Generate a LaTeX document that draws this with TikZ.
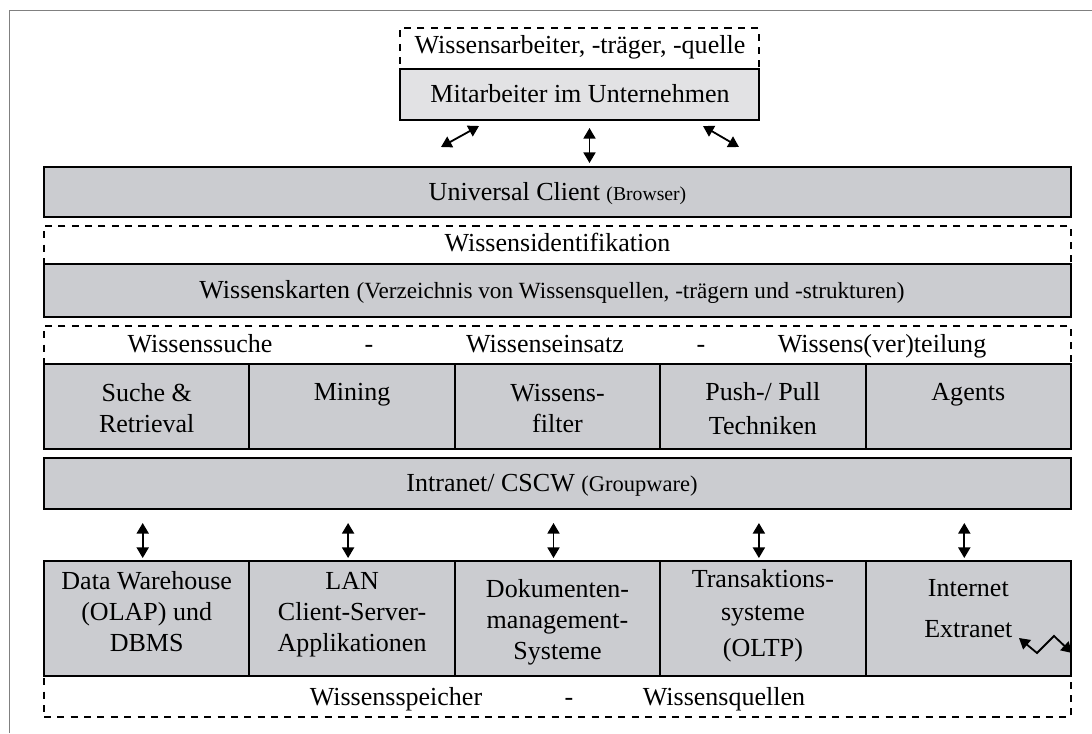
\documentclass[tikz,border=0pt]{standalone}
\usepackage{fontspec}
\setmainfont{Liberation Serif}
\usetikzlibrary{arrows.meta,fit}
\definecolor{grau}{RGB}{203,204,208}
\definecolor{hgrau}{RGB}{226,226,228}
\definecolor{rand}{RGB}{128,128,128}
\newcommand\klein{\fontsize{14}{17}\selectfont}
\newcommand\mittel{\fontsize{16.5}{20}\selectfont}
\tikzset{
  kasten/.style={draw=black,fill=grau,line width=1.4pt,inner sep=0pt},
  hkasten/.style={kasten,fill=hgrau},
  strich/.style={draw=black,line width=1.9pt,dash pattern=on 5pt off 4.5pt,inner sep=0pt},
  pfeil/.style={{Triangle[length=7.5pt,width=8.5pt]}-{Triangle[length=7.5pt,width=8.5pt]},line width=1.3pt},
  txt/.style={font=\fontsize{18.5}{22}\selectfont,align=center,inner sep=0pt,anchor=base},
}
\begin{document}
\begin{tikzpicture}[x=0.025cm,y=-0.025cm]
  \useasboundingbox (0,0) rectangle (1092,733);
  \draw[rand,line width=0.7pt] (9,733) -- (9,10) -- (1092,10);
  % Mitarbeiter oben
  \node[strich,fit={(400,28) (759,69)}] (rolle) {};
  \node[hkasten,fit={(400,69) (759,120)}] (mitarb) {};
  \node[txt] (rolletxt) at (580,53) {Wissensarbeiter, -träger, -quelle};
  \node[txt] (mitarbtxt) at (580,102.5) {Mitarbeiter im Unternehmen};
  \node[kasten,fit={(44,167) (1071,217)}] (client) {};
  \node[txt] (clienttxt) at (557.5,200) {Universal Client {\klein(Browser)}};
  \coordinate (ml1) at (441,147); \coordinate (ml2) at (479,126);
  \coordinate (mr1) at (703,126); \coordinate (mr2) at (739,147);
  \draw[pfeil] (ml1) -- (ml2);
  \draw[pfeil] (mr1) -- (mr2);
  \draw[pfeil,shorten <=1.75mm,shorten >=0.75mm] ([xshift=2.5mm]mitarb.south) -- ([xshift=2.5mm]mitarb.south |- client.north);
  % Wissensidentifikation
  \node[strich,fit={(44,226) (1071,264)}] (ident) {};
  \node[kasten,fit={(44,264) (1071,317)}] (karten) {};
  \node[txt] (identtxt) at (557.5,251) {Wissensidentifikation};
  \node[txt] (kartentxt) at (552,298.5) {Wissenskarten {\mittel(Verzeichnis von Wissensquellen, -trägern und -strukturen)}};
  % Suche, Einsatz, Verteilung
  \node[strich,fit={(44,326) (1071,364)}] (einsatz) {};
  \node[txt] (suche) at (200,352) {Wissenssuche};
  \node[txt] (st1) at (369,352) {-};
  \node[txt] (einsatztxt) at (545,352) {Wissenseinsatz};
  \node[txt] (st2) at (701,352) {-};
  \node[txt] (teilung) at (882,352) {Wissens(ver)teilung};
  \foreach \n [count=\i from 0] in {retr,mining,filter,push,agents}
    \node[kasten,fit={({44+205.4*\i},364) ({249.4+205.4*\i},449)}] (\n) {};
  \node[txt] (retrtxt) at (146.7,432) {Suche \&\\Retrieval};
  \node[txt] (miningtxt) at (352.1,400) {Mining};
  \node[txt] (filtertxt) at (557.5,432) {Wissens-\\filter};
  \node[txt] (pushtxt) at (762.9,434) {Push-/ Pull\\[1.5pt]Techniken};
  \node[txt] (agentstxt) at (968.3,400) {Agents};
  \node[kasten,fit={(44,458) (1071,509)}] (intranet) {};
  \node[txt] (intranettxt) at (552,491) {Intranet/ CSCW {\fontsize{16}{19}\selectfont(Groupware)}};
  % Wissensspeicher
  \node[strich,fit={(44,676) (1071,717)}] (speicher) {};
  \foreach \n [count=\i from 0] in {dw,lan,dms,oltp,inet}
    \node[kasten,fit={({44+205.4*\i},561) ({249.4+205.4*\i},676)}] (\n) {};
  \node[txt] (dwtxt) at (146.7,651) {Data Warehouse\\(OLAP) und\\DBMS};
  \node[txt] (lantxt) at (352.1,651) {LAN\\Client-Server-\\Applikationen};
  \node[txt] (dmstxt) at (557.5,659) {Dokumenten-\\management-\\Systeme};
  \node[txt] (oltptxt) at (762.9,656) {Transaktions-\\[1.5pt]systeme\\[3pt](OLTP)};
  \node[txt] (inettxt) at (968.3,637) {Internet\\[6.5pt]Extranet};
  \foreach \n in {dw,lan,dms,oltp,inet}
    \draw[pfeil,shorten <=3.25mm,shorten >=0.5mm] ([xshift=-1mm]\n.north |- intranet.south) -- ([xshift=-1mm]\n.north);
  \coordinate (z0) at (1019,638); \coordinate (z3) at (1072,653);
  \draw[pfeil] (z0) -- (1037,653) -- (1054,636) -- (z3);
  \node[txt] (spei) at (396,705) {Wissensspeicher};
  \node[txt] (st3) at (569,705) {-};
  \node[txt] (quell) at (724,705) {Wissensquellen};
\end{tikzpicture}
\end{document}
